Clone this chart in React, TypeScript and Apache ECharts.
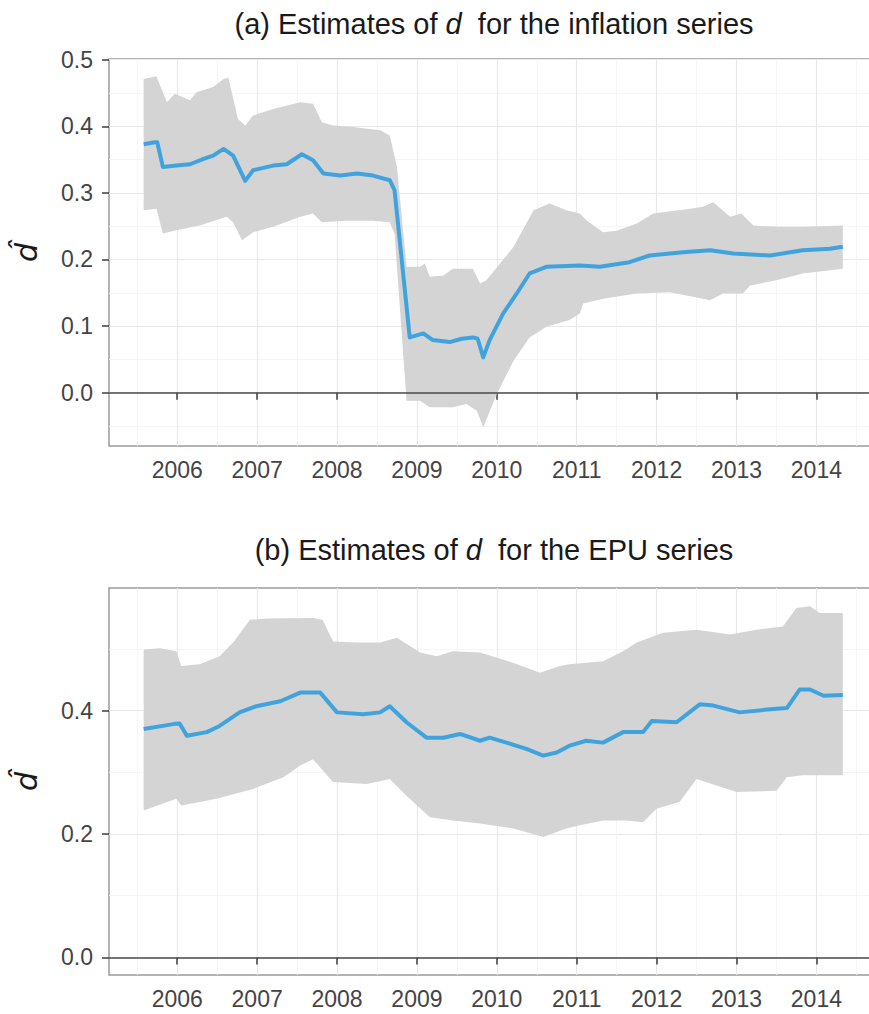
import React, { useEffect, useRef } from 'react';
import * as echarts from 'echarts';

// ---------- data ----------
const yearTicks = [2006, 2007, 2008, 2009, 2010, 2011, 2012, 2013, 2014];
const inflationTicks = [0, 0.1, 0.2, 0.3, 0.4, 0.5];
const epuTicks = [0, 0.2, 0.4];

const titleA = ['(a) Estimates of ', 'd', ' for the inflation series'];
const titleB = ['(b) Estimates of ', 'd', ' for the EPU series'];
const yName = 'd\u0302';

// [decimal year, value]
const inflationEstimate: [number, number][] = [
  [2005.58, 0.373], [2005.72, 0.376], [2005.75, 0.376], [2005.82, 0.339], [2005.99, 0.341],
  [2006.16, 0.343], [2006.33, 0.351], [2006.45, 0.356], [2006.58, 0.366], [2006.70, 0.356],
  [2006.85, 0.318], [2006.95, 0.334], [2007.20, 0.341], [2007.37, 0.343], [2007.56, 0.358],
  [2007.70, 0.349], [2007.83, 0.329], [2008.04, 0.326], [2008.25, 0.329], [2008.45, 0.326],
  [2008.66, 0.319], [2008.72, 0.304], [2008.91, 0.083], [2009.08, 0.089], [2009.20, 0.079],
  [2009.41, 0.076], [2009.56, 0.081], [2009.70, 0.083], [2009.76, 0.081], [2009.83, 0.053],
  [2009.91, 0.079], [2010.08, 0.119], [2010.25, 0.149], [2010.41, 0.179], [2010.62, 0.189],
  [2011.04, 0.191], [2011.29, 0.189], [2011.66, 0.196], [2011.91, 0.206], [2012.33, 0.211],
  [2012.67, 0.214], [2012.96, 0.209], [2013.42, 0.206], [2013.83, 0.214], [2014.17, 0.216],
  [2014.33, 0.219],
];
const inflationUpper: [number, number][] = [
  [2005.58, 0.471], [2005.74, 0.475], [2005.87, 0.436], [2005.97, 0.449], [2006.16, 0.439],
  [2006.24, 0.451], [2006.45, 0.459], [2006.58, 0.471], [2006.64, 0.473], [2006.76, 0.411],
  [2006.85, 0.401], [2006.95, 0.416], [2007.20, 0.426], [2007.54, 0.436], [2007.70, 0.434],
  [2007.81, 0.406], [2007.95, 0.401], [2008.20, 0.399], [2008.54, 0.394], [2008.66, 0.386],
  [2008.75, 0.339], [2008.87, 0.189], [2009.04, 0.189], [2009.10, 0.194], [2009.16, 0.174],
  [2009.33, 0.176], [2009.45, 0.186], [2009.70, 0.186], [2009.79, 0.164], [2009.87, 0.169],
  [2010.21, 0.219], [2010.46, 0.274], [2010.66, 0.284], [2010.87, 0.274], [2011.04, 0.269],
  [2011.12, 0.259], [2011.33, 0.241], [2011.50, 0.243], [2011.75, 0.254], [2011.96, 0.269],
  [2012.42, 0.276], [2012.58, 0.279], [2012.71, 0.286], [2012.92, 0.264], [2013.06, 0.269],
  [2013.21, 0.251], [2013.50, 0.249], [2013.83, 0.249], [2014.33, 0.251],
];
const inflationLower: [number, number][] = [
  [2005.58, 0.274], [2005.74, 0.276], [2005.82, 0.239], [2005.99, 0.244], [2006.28, 0.251],
  [2006.62, 0.264], [2006.70, 0.256], [2006.81, 0.229], [2006.95, 0.241], [2007.20, 0.249],
  [2007.54, 0.264], [2007.70, 0.269], [2007.81, 0.256], [2008.12, 0.258], [2008.45, 0.258],
  [2008.66, 0.256], [2008.72, 0.239], [2008.87, -0.012], [2009.04, -0.012], [2009.16, -0.022],
  [2009.45, -0.022], [2009.62, -0.017], [2009.75, -0.027], [2009.83, -0.052], [2010.00, -0.002],
  [2010.21, 0.048], [2010.41, 0.083], [2010.62, 0.099], [2010.91, 0.109], [2011.04, 0.119],
  [2011.08, 0.134], [2011.33, 0.141], [2011.75, 0.149], [2012.17, 0.151], [2012.67, 0.139],
  [2012.83, 0.149], [2013.08, 0.149], [2013.17, 0.161], [2013.50, 0.169], [2013.83, 0.179],
  [2014.33, 0.186],
];

const epuEstimate: [number, number][] = [
  [2005.58, 0.370], [2005.95, 0.378], [2006.03, 0.379], [2006.12, 0.359], [2006.37, 0.365],
  [2006.53, 0.375], [2006.78, 0.397], [2006.99, 0.407], [2007.29, 0.415], [2007.54, 0.429],
  [2007.79, 0.429], [2008.00, 0.397], [2008.33, 0.394], [2008.54, 0.397], [2008.66, 0.407],
  [2008.87, 0.381], [2009.12, 0.356], [2009.33, 0.356], [2009.54, 0.362], [2009.79, 0.351],
  [2009.91, 0.356], [2010.12, 0.348], [2010.37, 0.338], [2010.58, 0.327], [2010.75, 0.332],
  [2010.91, 0.343], [2011.12, 0.351], [2011.33, 0.348], [2011.58, 0.365], [2011.83, 0.365],
  [2011.94, 0.383], [2012.25, 0.381], [2012.54, 0.410], [2012.71, 0.408], [2013.04, 0.397],
  [2013.42, 0.402], [2013.63, 0.404], [2013.79, 0.434], [2013.92, 0.434], [2014.09, 0.424],
  [2014.33, 0.425],
];
const epuUpper: [number, number][] = [
  [2005.58, 0.499], [2005.78, 0.501], [2005.99, 0.496], [2006.05, 0.472], [2006.28, 0.475],
  [2006.53, 0.488], [2006.70, 0.510], [2006.91, 0.547], [2007.12, 0.549], [2007.70, 0.550],
  [2007.82, 0.547], [2007.95, 0.512], [2008.25, 0.510], [2008.54, 0.510], [2008.75, 0.518],
  [2009.04, 0.494], [2009.25, 0.488], [2009.45, 0.496], [2009.79, 0.494], [2010.21, 0.477],
  [2010.54, 0.461], [2010.79, 0.472], [2010.91, 0.475], [2011.33, 0.480], [2011.58, 0.496],
  [2011.75, 0.510], [2012.08, 0.526], [2012.50, 0.531], [2012.92, 0.523], [2013.25, 0.531],
  [2013.58, 0.536], [2013.75, 0.566], [2013.92, 0.569], [2014.04, 0.558], [2014.33, 0.558],
];
const epuLower: [number, number][] = [
  [2005.58, 0.238], [2005.99, 0.257], [2006.05, 0.246], [2006.49, 0.257], [2006.95, 0.273],
  [2007.33, 0.292], [2007.54, 0.311], [2007.70, 0.321], [2007.95, 0.284], [2008.37, 0.281],
  [2008.66, 0.289], [2008.87, 0.262], [2009.16, 0.227], [2009.45, 0.222], [2009.79, 0.217],
  [2010.21, 0.209], [2010.58, 0.195], [2010.87, 0.209], [2011.04, 0.214], [2011.33, 0.222],
  [2011.62, 0.222], [2011.83, 0.219], [2012.00, 0.241], [2012.29, 0.252], [2012.50, 0.289],
  [2013.00, 0.268], [2013.50, 0.270], [2013.63, 0.292], [2013.83, 0.295], [2014.33, 0.295],
];

// ---------- styling ----------
const FONT = '"Liberation Sans", Arial, Helvetica, sans-serif';
const LINE_COLOR = '#41a3de';
const RIBBON = '#d4d4d4';
const GRID_MAJOR = '#e9e9e9';
const GRID_MINOR = '#f4f4f4';
const TICK_COLOR = '#3d3d3d';
const LABEL_COLOR = '#444444';

function xAxisFor(gridIndex: number) {
  return {
    type: 'value',
    gridIndex,
    min: 2005.146,
    max: 2014.771,
    minInterval: 1,
    maxInterval: 1,
    axisLine: { show: false },
    axisTick: {
      show: true,
      customValues: yearTicks,
      length: 7,
      lineStyle: { color: TICK_COLOR, width: 1.5 },
    },
    axisLabel: {
      customValues: yearTicks,
      formatter: (v: number) => String(Math.round(v)),
      fontSize: 23,
      color: LABEL_COLOR,
      fontFamily: FONT,
      margin: 12,
    },
    splitLine: { show: true, lineStyle: { color: GRID_MAJOR, width: 1.2 } },
    minorTick: { show: false, splitNumber: 2 },
    minorSplitLine: { show: true, lineStyle: { color: GRID_MINOR, width: 0.8 } },
  };
}

function yAxisFor(gridIndex: number, min: number, max: number, step: number, ticks: number[]) {
  return {
    type: 'value',
    gridIndex,
    min,
    max,
    minInterval: step,
    maxInterval: step,
    name: yName,
    nameLocation: 'middle',
    nameRotate: 90,
    nameGap: 68,
    nameTextStyle: {
      fontSize: 30,
      fontStyle: 'italic',
      color: '#1a1a1a',
      fontFamily: '"DejaVu Sans", sans-serif',
    },
    axisLine: { show: false },
    axisTick: {
      show: true,
      customValues: ticks,
      length: 7,
      lineStyle: { color: TICK_COLOR, width: 1.5 },
    },
    axisLabel: {
      customValues: ticks,
      formatter: (v: number) => v.toFixed(1),
      fontSize: 23,
      color: LABEL_COLOR,
      fontFamily: FONT,
      margin: 16,
    },
    splitLine: { show: true, lineStyle: { color: GRID_MAJOR, width: 1.2 } },
    minorTick: { show: false, splitNumber: 2 },
    minorSplitLine: { show: true, lineStyle: { color: GRID_MINOR, width: 0.8 } },
  };
}

function ribbonSeries(upper: [number, number][], lower: [number, number][], idx: number) {
  const pts = upper.concat(lower.slice().reverse());
  return {
    type: 'custom',
    xAxisIndex: idx,
    yAxisIndex: idx,
    z: 2,
    silent: true,
    data: pts,
    encode: { x: 0, y: 1 },
    renderItem: (params: any, api: any) => {
      if (params.dataIndex !== 0) return null;
      const points = pts.map((p) => api.coord(p));
      return {
        type: 'polygon',
        shape: { points },
        style: { fill: RIBBON, stroke: 'none' },
      };
    },
  };
}

function lineSeries(data: [number, number][], idx: number) {
  return {
    type: 'line',
    xAxisIndex: idx,
    yAxisIndex: idx,
    z: 3,
    data,
    showSymbol: false,
    symbol: 'none',
    silent: true,
    lineStyle: { color: LINE_COLOR, width: 4, join: 'round' },
    markLine: {
      silent: true,
      symbol: 'none',
      label: { show: false },
      lineStyle: { color: '#4a4a4a', width: 1.6, type: 'solid' },
      data: [{ yAxis: 0 }],
    },
  };
}

function titleText(parts: string[], y: number) {
  return {
    type: 'text',
    x: 494,
    y,
    style: {
      text: `{n|${parts[0]}}{i|${parts[1]}}{n| ${parts[2]}}`,
      align: 'center',
      verticalAlign: 'middle',
      rich: {
        n: { fontSize: 29, fontFamily: FONT, fill: '#1a1a1a', color: '#1a1a1a' },
        i: { fontSize: 29, fontFamily: FONT, fontStyle: 'italic', fill: '#1a1a1a', color: '#1a1a1a' },
      },
    },
  };
}

const gridBase = {
  left: 109,
  right: -9,
  height: 387,
  show: true,
  borderColor: '#9a9a9a',
  borderWidth: 1.5,
  backgroundColor: 'transparent',
  containLabel: false,
  outerBoundsMode: 'none',
};

export default function App() {
  const ref = useRef<HTMLDivElement>(null);
  useEffect(() => {
    if (!ref.current) return;
    const chart = echarts.init(ref.current, undefined, { renderer: 'svg' });
    chart.setOption({
      animation: false,
      backgroundColor: '#ffffff',
      grid: [
        { ...gridBase, top: 59 },
        { ...gridBase, top: 588 },
      ],
      xAxis: [xAxisFor(0), xAxisFor(1)],
      yAxis: [
        yAxisFor(0, -0.08, 0.501, 0.1, inflationTicks),
        yAxisFor(1, -0.0285, 0.5985, 0.2, epuTicks),
      ],
      graphic: [titleText(titleA, 24), titleText(titleB, 550)],
      series: [
        ribbonSeries(inflationUpper, inflationLower, 0),
        lineSeries(inflationEstimate, 0),
        ribbonSeries(epuUpper, epuLower, 1),
        lineSeries(epuEstimate, 1),
      ],
    });
    return () => chart.dispose();
  }, []);
  return (
    <div
      ref={ref}
      style={{ position: 'absolute', left: 0, top: 0, width: 869, height: 1014 }}
    />
  );
}
